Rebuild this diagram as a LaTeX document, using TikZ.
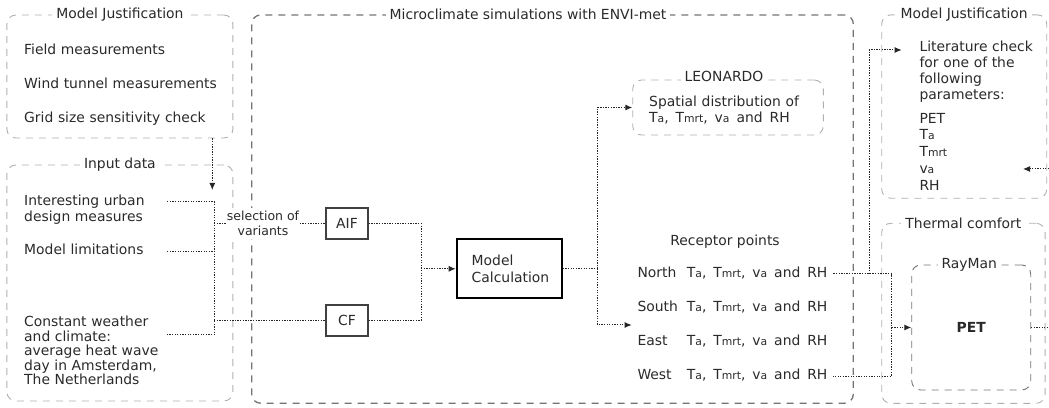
\documentclass[tikz,border=0pt]{standalone}
\usepackage{fontspec}
\setmainfont{DejaVu Sans}
\usepackage{xcolor}
\usepackage{tikz}
\usetikzlibrary{
        arrows.meta,
        shapes
    }
\definecolor{ink}{HTML}{2A2A2A}
\definecolor{framegray}{HTML}{B0B0B0}
\definecolor{maingray}{HTML}{747474}
\newcommand{\ix}[1]{{\fontsize{10.8}{11}\selectfont #1}}
\newcommand{\wsp}{\hspace{0.5em}}
\newcommand{\recvals}{T\ix{a},\wsp T\ix{mrt},\wsp v\ix{a}\wsp and\wsp RH}

\begin{document}
\begin{tikzpicture}[x=1pt, y=1pt,
font=\fontsize{13.9}{16}\selectfont, text=ink,
frame/.style={draw=framegray, line width=0.9pt, dash pattern=on 7pt off 6pt, rounded corners=9pt, inner sep=0pt},
mainframe/.style={frame, draw=maingray, line width=1.3pt},
heading/.style={fill=white, inner sep=4pt},
item/.style={inner sep=0pt, align=left, text height=10pt, text depth=3pt},
block/.style={inner sep=0pt, align=left},
box/.style={rectangle, draw=black!75, line width=1.3pt, minimum width=42pt, minimum height=31pt, inner sep=0pt},
link/.style={draw=black!85, line width=1pt, dash pattern=on 1.3pt off 1.3pt},
arrow/.style={link, -{Latex[length=7pt, width=6pt]}}, node distance=34pt,
]
\useasboundingbox (0,0) rectangle (1049,407);

\node (mjL) [frame, minimum width=226pt, minimum height=123pt] at (119.9,330.5) {};
\node (inp) [frame, minimum width=226pt, minimum height=236pt] at (119.9,124) {};
\node (envi) [mainframe, minimum width=601.6pt, minimum height=388.3pt] at (552.5,197.9) {};
\node (leo) [frame, minimum width=190.6pt, minimum height=55pt] at (728,299.5) {};
\node (mjR) [frame, minimum width=165pt, minimum height=183.3pt] at (964.2,300.4) {};
\node (thc) [frame, minimum width=163.3pt, minimum height=180pt] at (963.4,93.7) {};
\node (ray) [frame, draw=maingray, minimum width=119pt, minimum height=125pt, font=\fontsize{13.9}{16}\selectfont\bfseries] at (971.2,79.5) {PET};

\node (mjLt) [heading] at (mjL.north) {Model Justification};
\node (inpt) [heading] at (inp.north) {Input data};
\node (envit) [heading] at ([xshift=-24.5pt]envi.north) {Microclimate simulations with ENVI-met};
\node (leot) [heading] at ([xshift=-4pt, yshift=3pt]leo.north) {LEONARDO};
\node (mjRt) [heading] at (mjR.north) {Model Justification};
\node (thct) [heading] at (thc.north) {Thermal comfort};
\node (rayt) [heading] at ([xshift=-2pt]ray.north) {RayMan};

\node (field) [item, text width=200pt, anchor=west] at (24,356.3) {Field measurements};
\node (wind) [item, text width=200pt, below of=field] {Wind tunnel measurements};
\node (grid) [item, text width=200pt, below of=wind] {Grid size sensitivity check};

\node (urban) [block, text width=142.7pt, anchor=west] at (24,197) {Interesting urban\\design measures};
\node (limits) [item, text width=142.7pt, anchor=west] at (24,155.5) {Model limitations};
\node (climate) [block, text width=142.7pt, anchor=west, font=\fontsize{13.9}{14.4}\selectfont] at (24,56.5) {Constant weather\\and climate:\\average heat wave\\day in Amsterdam,\\The Netherlands};

\node (aif) [box] at (347,183.5) {AIF};
\node (cf) [box] at (347,86.5) {CF};
\node (calc) [box, draw=black, line width=2pt, minimum width=105pt, minimum height=59pt, text width=75pt, inner xsep=15pt, align=left, font=\fontsize{13.9}{17.5}\selectfont] at (509.2,138.2) {Model\\Calculation};

\node (spatial) [block, text width=170pt, anchor=west, font=\fontsize{13.9}{16.3}\selectfont] at (649,297) {Spatial distribution of\\\recvals};

\node (rec) at (725,165.3) {Receptor points};
\node (north) [item, text width=45pt, anchor=west] at (637.3,133) {North};
\node (south) [item, text width=45pt, below of=north] {South};
\node (east) [item, text width=45pt, below of=south] {East};
\node (west) [item, text width=45pt, below of=east] {West};
\node (northv) [item, text width=146.3pt, anchor=west] at (686.7,133) {\recvals};
\node (southv) [item, text width=146.3pt, below of=northv] {\recvals};
\node (eastv) [item, text width=146.3pt, below of=southv] {\recvals};
\node (westv) [item, text width=146.3pt, below of=eastv] {\recvals};

\node (lit) [block, text width=120pt, anchor=west] at (919.3,335) {Literature check\\for one of the\\following\\parameters:};
\node (params) [block, text width=120pt, anchor=west, font=\fontsize{13.9}{16.75}\selectfont] at (919.3,255.5) {PET\\T\ix{a}\\T\ix{mrt}\\v\ix{a}\\RH};

\coordinate (inpin) at (212.3,217);
\coordinate (bustop) at (214,205.3);
\coordinate (busbot) at (214,72);
\coordinate (join) at (421,138.2);
\coordinate (split) at (597.7,138.2);
\coordinate (recin) at (631.7,82);
\coordinate (rcol) at (891.7,133);
\coordinate (litx) at (869,133);
\coordinate (litin) at (901.7,357);
\coordinate (rimout) at (1049,79.5);
\coordinate (rimin) at (1049,238);
\coordinate (parin) at (1023,238);

\draw[arrow] (mjL.south -| inpin) -- (inpin);
\draw[link] (urban.east |- bustop) -- (bustop) -- (busbot) -- (climate.east |- busbot);
\draw[link] (limits.east) -- (limits.east -| bustop);
\draw[link] (bustop |- aif) -- node[pos=0.44, fill=white, inner xsep=1pt, inner ysep=3pt, align=center, font=\fontsize{12.5}{14.7}\selectfont] (sel) {selection of\\variants} (aif);
\draw[link] (bustop |- cf) -- (cf);
\draw[link] (aif) -| (join) |- (cf);
\draw[arrow] (join) -- (calc);
\draw[link] (calc) -- (split);
\draw[arrow] (split) |- (leo);
\draw[arrow] (split) |- (recin);
\draw[link] (northv) -- (rcol) |- (westv);
\draw[arrow] (rcol |- ray) -- (ray);
\draw[arrow] (litx) |- (litin);
\draw[link] (ray) -- (rimout);
\draw[arrow] (rimin) -- (parin);

\end{tikzpicture}
\end{document}
